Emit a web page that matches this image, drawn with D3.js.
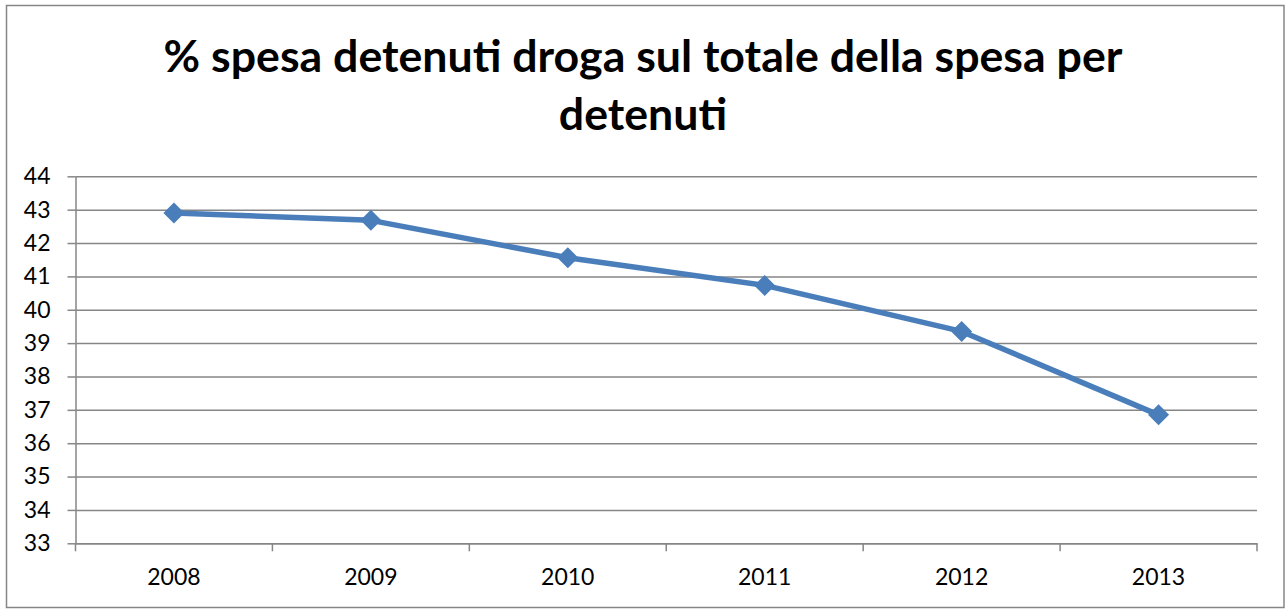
<!DOCTYPE html>
<html>
<head>
<meta charset="utf-8">
<script src="https://cdn.jsdelivr.net/npm/d3@7"></script>
<style>
  body { margin: 0; background: #fff; }
  svg { display: block; }
  text { font-family: Lato, "Open Sans", sans-serif; fill: #000; }
</style>
</head>
<body>
<script>
// data
var years = ["2008", "2009", "2010", "2011", "2012", "2013"];
var values = [42.9, 42.68, 41.56, 40.73, 39.35, 36.85];
var yTicks = [33, 34, 35, 36, 37, 38, 39, 40, 41, 42, 43, 44];
var titleLines = ["% spesa detenuti droga sul totale della spesa per", "detenuti"];

var W = 1285, H = 610;
// plot area edges (note: "top" is reserved on window, so prefix these)
var plotL = 75.5, plotR = 1257, plotT = 176.3, plotB = 543.3;
var blue = "#4a7ebb", grey = "#868686";

var svg = d3.select("body").append("svg")
    .attr("width", W)
    .attr("height", H);

// outer border
svg.append("rect")
    .attr("x", 6.5).attr("y", 5.5)
    .attr("width", 1284 - 6.5).attr("height", 607.5 - 5.5)
    .attr("fill", "none")
    .attr("stroke", grey)
    .attr("stroke-width", 1.5);

// title, scaled so the first line fills the same width
var title = svg.append("text")
    .attr("text-anchor", "middle")
    .style("font-weight", "bold")
    .style("font-size", "40px");
title.selectAll("tspan")
    .data(titleLines)
    .enter().append("tspan")
    .attr("x", 643)
    .attr("y", function (d, i) { return 72 + i * 58; })
    .text(function (d) { return d; });
var w0 = title.select("tspan").node().getComputedTextLength();
title.style("font-size", (40 * 959 / w0) + "px");

var x = d3.scaleBand().domain(years).range([plotL, plotR]);
var y = d3.scaleLinear().domain([33, 44]).range([plotB, plotT]);

// horizontal gridlines
svg.append("g")
    .attr("transform", "translate(" + plotL + ",0)")
    .call(d3.axisLeft(y).tickValues(yTicks).tickSize(-(plotR - plotL)).tickFormat(""))
    .call(function (g) {
        g.select(".domain").remove();
        g.selectAll("line").attr("stroke", grey).attr("stroke-width", 1.5);
    });

// y axis with outside ticks
svg.append("g")
    .attr("transform", "translate(" + plotL + ",0)")
    .call(d3.axisLeft(y).tickValues(yTicks).tickSize(8).tickPadding(17).tickSizeOuter(0))
    .call(function (g) {
        g.select(".domain").attr("stroke", grey).attr("stroke-width", 1.5);
        g.selectAll("line").attr("stroke", grey).attr("stroke-width", 1.5);
        g.selectAll("text").style("font-size", "23px").attr("fill", "#000").attr("font-family", null);
    });

// x axis: labels in the middle of each category, ticks between
var xAxis = svg.append("g")
    .attr("transform", "translate(0," + plotB + ")")
    .call(d3.axisBottom(x).tickSize(0).tickPadding(25).tickSizeOuter(0))
    .call(function (g) {
        g.select(".domain").attr("stroke", grey).attr("stroke-width", 1.5);
        g.selectAll("text").style("font-size", "23px").attr("fill", "#000").attr("font-family", null);
    });
var edges = years.map(function (d) { return x(d); }).concat([plotR]);
xAxis.selectAll("line.edge")
    .data(edges)
    .enter().append("line")
    .attr("class", "edge")
    .attr("x1", function (d) { return d; })
    .attr("x2", function (d) { return d; })
    .attr("y1", 0).attr("y2", 8)
    .attr("stroke", grey)
    .attr("stroke-width", 1.5);

// series line
var pts = years.map(function (d, i) { return { year: d, v: values[i] }; });
var line = d3.line()
    .x(function (d) { return x(d.year) + x.bandwidth() / 2; })
    .y(function (d) { return y(d.v); });

svg.append("path")
    .datum(pts)
    .attr("d", line)
    .attr("fill", "none")
    .attr("stroke", blue)
    .attr("stroke-width", 5.5)
    .attr("stroke-linejoin", "round");

// diamond markers
svg.selectAll("path.marker")
    .data(pts)
    .enter().append("path")
    .attr("class", "marker")
    .attr("d", "M0,-10.5L10.5,0L0,10.5L-10.5,0Z")
    .attr("transform", function (d) {
        return "translate(" + (x(d.year) + x.bandwidth() / 2) + "," + y(d.v) + ")";
    })
    .attr("fill", blue);
</script>
</body>
</html>
